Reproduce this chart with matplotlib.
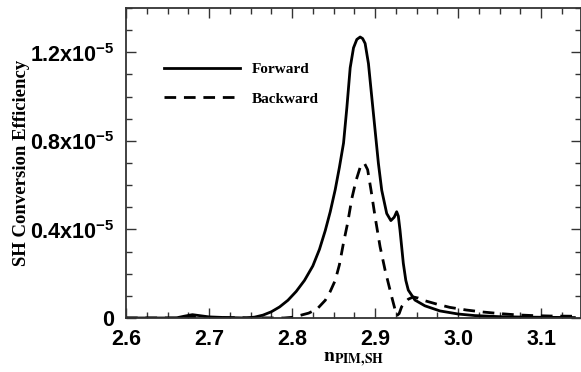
import matplotlib
matplotlib.use("Agg")
import matplotlib.pyplot as plt
from matplotlib.ticker import MultipleLocator, FixedLocator, FixedFormatter

plt.rcParams['mathtext.fontset'] = 'custom'
plt.rcParams['mathtext.bf'] = 'Liberation Sans:bold'
plt.rcParams['mathtext.rm'] = 'Liberation Sans:bold'

# ---- data (efficiency in units of 1e-5) ----
fwd_n = [2.600, 2.660, 2.670, 2.680, 2.690, 2.700, 2.720, 2.745, 2.755, 2.765,
         2.775, 2.785, 2.795, 2.805, 2.815, 2.825, 2.833, 2.840, 2.846, 2.852,
         2.857, 2.862, 2.866, 2.870, 2.874, 2.878, 2.882, 2.885, 2.888, 2.892,
         2.896, 2.900, 2.904, 2.908, 2.914, 2.919, 2.923, 2.926, 2.928, 2.930,
         2.934, 2.937, 2.940, 2.948, 2.960, 2.978, 3.000, 3.020, 3.050, 3.080,
         3.110, 3.140]
fwd_eff = [0.000, 0.000, 0.008, 0.015, 0.010, 0.005, 0.002, 0.000, 0.004, 0.013,
           0.028, 0.050, 0.080, 0.120, 0.170, 0.235, 0.310, 0.395, 0.480, 0.580,
           0.680, 0.790, 0.950, 1.130, 1.220, 1.258, 1.269, 1.262, 1.240, 1.149,
           0.998, 0.848, 0.698, 0.577, 0.472, 0.440, 0.455, 0.480, 0.460, 0.397,
           0.247, 0.170, 0.126, 0.081, 0.055, 0.032, 0.018, 0.011, 0.006, 0.004,
           0.003, 0.002]

bwd_n = [2.600, 2.670, 2.680, 2.690, 2.700, 2.790, 2.800, 2.810, 2.820, 2.830,
         2.840, 2.846, 2.852, 2.857, 2.862, 2.867, 2.872, 2.877, 2.882, 2.887,
         2.891, 2.895, 2.900, 2.906, 2.912, 2.920, 2.926, 2.929, 2.932, 2.936,
         2.940, 2.946, 2.952, 2.960, 2.975, 2.990, 3.010, 3.030, 3.050, 3.071,
         3.090, 3.110, 3.140]
bwd_eff = [0.000, 0.000, 0.006, 0.004, 0.002, 0.000, 0.003, 0.012, 0.022, 0.040,
           0.080, 0.120, 0.170, 0.240, 0.340, 0.430, 0.540, 0.620, 0.680, 0.700,
           0.670, 0.580, 0.457, 0.322, 0.217, 0.096, 0.010, 0.020, 0.051, 0.070,
           0.085, 0.095, 0.090, 0.078, 0.062, 0.048, 0.036, 0.027, 0.020, 0.014,
           0.011, 0.009, 0.008]

series_labels = ["Forward", "Backward"]
ytick_vals = [0, 0.4, 0.8, 1.2]
ytick_labels = [r'$\mathbf{0}$', r'$\mathbf{0.4x10^{-5}}$',
                r'$\mathbf{0.8x10^{-5}}$', r'$\mathbf{1.2x10^{-5}}$']
xtick_vals = [2.6, 2.7, 2.8, 2.9, 3.0, 3.1]
xtick_labels = ["2.6", "2.7", "2.8", "2.9", "3.0", "3.1"]

fig = plt.figure(figsize=(5.81, 3.72), dpi=100)
ax = fig.add_axes([126/581, 54/372, 455/581, 310/372])

ax.plot(fwd_n, fwd_eff, color='black', lw=2.0, label=series_labels[0])
ax.plot(bwd_n, bwd_eff, color='black', lw=2.0, linestyle=(0, (4.2, 2.8)),
        label=series_labels[1])

ax.set_xlim(2.6, 3.148)
ax.set_ylim(0, 1.4)

ax.xaxis.set_major_locator(FixedLocator(xtick_vals))
ax.xaxis.set_major_formatter(FixedFormatter(xtick_labels))
ax.xaxis.set_minor_locator(MultipleLocator(0.025))
ax.yaxis.set_major_locator(FixedLocator(ytick_vals))
ax.yaxis.set_major_formatter(FixedFormatter(ytick_labels))
ax.yaxis.set_minor_locator(MultipleLocator(0.1))

ax.tick_params(which='both', direction='in', top=True, right=True, width=1.0,
               color='#333333')
ax.tick_params(which='major', length=7, pad=8)
ax.tick_params(which='minor', length=4)
for lab in ax.get_xticklabels():
    lab.set_fontfamily('Liberation Sans')
    lab.set_fontweight('bold')
    lab.set_fontsize(15.5)
for lab in ax.get_yticklabels():
    lab.set_fontsize(15.5)

for sp in ax.spines.values():
    sp.set_linewidth(1.3)
    sp.set_color('#333333')

ax.set_ylabel('SH Conversion Efficiency', fontfamily='Liberation Serif',
              fontweight='bold', fontsize=13.5, labelpad=0)
xl = ax.set_xlabel(r'$\mathbf{n}_{\mathbf{PIM{,}SH}}$', fontsize=14, labelpad=0)
xl.set_math_fontfamily('stix')

leg = ax.legend(loc='upper left', bbox_to_anchor=(0.083, 0.825), frameon=False,
                prop={'family': 'Liberation Serif', 'weight': 'bold', 'size': 11},
                handlelength=5.0, handletextpad=0.75, labelspacing=1.05,
                borderpad=0, borderaxespad=0)

fig.savefig('out.png', dpi=100)
